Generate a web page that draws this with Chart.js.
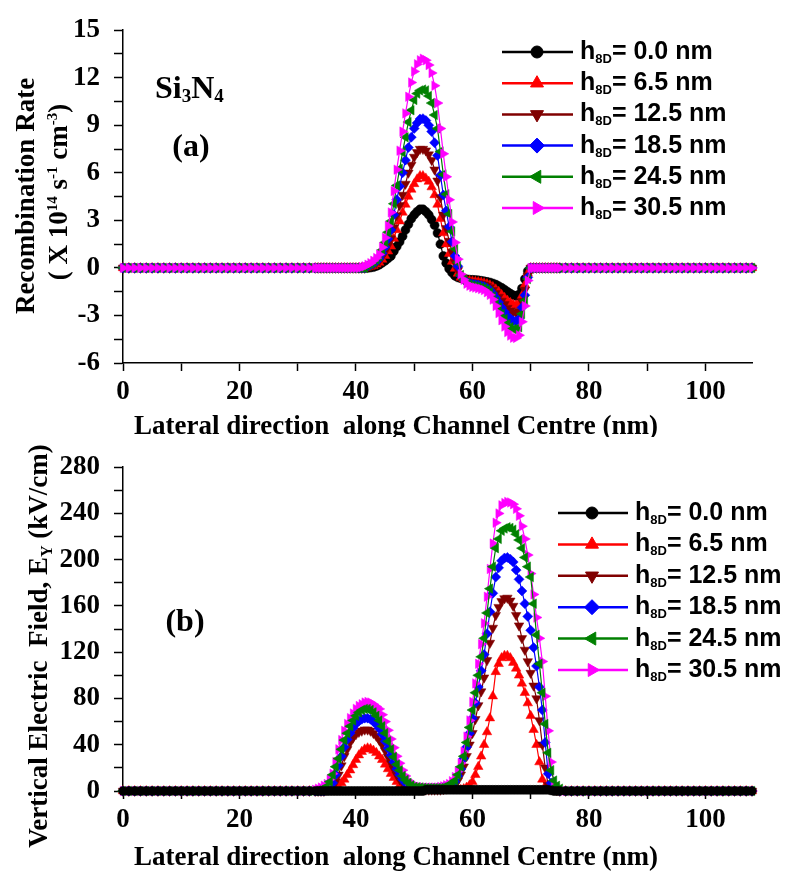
<!DOCTYPE html>
<html>
<head>
<meta charset="utf-8">
<script src="https://cdn.jsdelivr.net/npm/chart.js@4.4.1/dist/chart.umd.min.js"></script>
<style>
  html, body { margin: 0; padding: 0; background: #fff; }
  #wrap { position: relative; width: 790px; height: 875px; }
  canvas { position: absolute; left: 0; }
  #top { top: 0; }
  #bottom { top: 437px; }
</style>
</head>
<body>
<div id="wrap">
  <canvas id="top" width="790" height="437"></canvas>
  <canvas id="bottom" width="790" height="438"></canvas>
</div>
<script>
// lateral position along channel centre (nm); finer mesh 33..75
const xPos = [
  0, 1, 2, 3, 4, 5, 6, 7, 8, 9, 10, 11, 12, 13, 14, 15, 16,
  17, 18, 19, 20, 21, 22, 23, 24, 25, 26, 27, 28, 29, 30, 31, 32,
  33, 33.5, 34, 34.5, 35, 35.5, 36, 36.5, 37, 37.5,
  38, 38.5, 39, 39.5, 40, 40.5, 41, 41.5, 42, 42.5,
  43, 43.5, 44, 44.5, 45, 45.5, 46, 46.5, 47, 47.5,
  48, 48.5, 49, 49.5, 50, 50.5, 51, 51.5, 52, 52.5,
  53, 53.5, 54, 54.5, 55, 55.5, 56, 56.5, 57, 57.5,
  58, 58.5, 59, 59.5, 60, 60.5, 61, 61.5, 62, 62.5,
  63, 63.5, 64, 64.5, 65, 65.5, 66, 66.5, 67, 67.5,
  68, 68.5, 69, 69.5, 70, 70.5, 71, 71.5, 72, 72.5,
  73, 73.5, 74, 74.5, 75,
  76, 77, 78, 79, 80, 81, 82, 83, 84, 85, 86, 87, 88, 89, 90, 91, 92,
  93, 94, 95, 96, 97, 98, 99, 100, 101, 102, 103, 104, 105, 106, 107, 108
];
const hsdValues = ['0.0', '6.5', '12.5', '18.5', '24.5', '30.5'];

// (a) recombination rate (x 10^14 s^-1 cm^-3)
const recH00 = [
  0, 0, 0, 0, 0, 0, 0, 0, 0, 0, 0, 0, 0, 0, 0, 0, 0,
  0, 0, 0, 0, 0, 0, 0, 0, 0, 0, 0, 0, 0, 0, 0, 0,
  0, 0, 0, 0, 0, 0, 0, 0, 0, 0,
  0, 0, 0, 0, 0, 0, 0, 0, 0, 0.02,
  0.05, 0.12, 0.2, 0.32, 0.45, 0.6, 0.75, 1.05, 1.35, 1.65,
  2.0, 2.4, 2.75, 3.1, 3.35, 3.55, 3.7, 3.7, 3.55, 3.35,
  3.05, 2.7, 2.2, 1.5, 0.75, 0.3, -0.05, -0.3, -0.5, -0.6,
  -0.65, -0.7, -0.72, -0.74, -0.75, -0.76, -0.78, -0.81, -0.84, -0.88,
  -0.92, -0.98, -1.05, -1.15, -1.25, -1.37, -1.5, -1.62, -1.72, -1.77,
  -1.68, -1.3, -0.7, -0.2, 0, 0, 0, 0, 0, 0,
  0, 0, 0, 0, 0,
  0, 0, 0, 0, 0, 0, 0, 0, 0, 0, 0, 0, 0, 0, 0, 0, 0,
  0, 0, 0, 0, 0, 0, 0, 0, 0, 0, 0, 0, 0, 0, 0, 0
];
const recH65 = [
  0, 0, 0, 0, 0, 0, 0, 0, 0, 0, 0, 0, 0, 0, 0, 0, 0,
  0, 0, 0, 0, 0, 0, 0, 0, 0, 0, 0, 0, 0, 0, 0, 0,
  0, 0, 0, 0, 0, 0, 0, 0, 0, 0,
  0, 0, 0, 0, 0, 0, 0, 0, 0.05, 0.09,
  0.14, 0.23, 0.34, 0.53, 0.77, 1.05, 1.36, 1.85, 2.4, 2.95,
  3.5, 4.0, 4.5, 4.95, 5.3, 5.6, 5.8, 5.8, 5.65, 5.45,
  5.1, 4.6, 4.0, 3.1, 2.2, 1.5, 0.9, 0.4, -0.04, -0.35,
  -0.6, -0.7, -0.78, -0.82, -0.85, -0.87, -0.89, -0.92, -0.96, -1.02,
  -1.09, -1.2, -1.35, -1.5, -1.7, -1.88, -2.06, -2.2, -2.31, -2.35,
  -2.25, -1.75, -1.07, -0.35, 0, 0, 0, 0, 0, 0,
  0, 0, 0, 0, 0,
  0, 0, 0, 0, 0, 0, 0, 0, 0, 0, 0, 0, 0, 0, 0, 0, 0,
  0, 0, 0, 0, 0, 0, 0, 0, 0, 0, 0, 0, 0, 0, 0, 0
];
const recH125 = [
  0, 0, 0, 0, 0, 0, 0, 0, 0, 0, 0, 0, 0, 0, 0, 0, 0,
  0, 0, 0, 0, 0, 0, 0, 0, 0, 0, 0, 0, 0, 0, 0, 0,
  0, 0, 0, 0, 0, 0, 0, 0, 0, 0,
  0, 0, 0, 0, 0, 0, 0, 0, 0.08, 0.14,
  0.21, 0.32, 0.46, 0.72, 1.03, 1.42, 1.85, 2.55, 3.3, 3.95,
  4.6, 5.3, 6.0, 6.5, 7.0, 7.3, 7.5, 7.5, 7.4, 7.15,
  6.8, 6.2, 5.5, 4.45, 3.35, 2.5, 1.7, 1.0, 0.35, -0.15,
  -0.55, -0.72, -0.83, -0.89, -0.93, -0.95, -0.98, -1.02, -1.06, -1.14,
  -1.23, -1.4, -1.6, -1.83, -2.08, -2.3, -2.53, -2.7, -2.8, -2.83,
  -2.72, -2.1, -1.39, -0.5, 0, 0, 0, 0, 0, 0,
  0, 0, 0, 0, 0,
  0, 0, 0, 0, 0, 0, 0, 0, 0, 0, 0, 0, 0, 0, 0, 0, 0,
  0, 0, 0, 0, 0, 0, 0, 0, 0, 0, 0, 0, 0, 0, 0, 0
];
const recH185 = [
  0, 0, 0, 0, 0, 0, 0, 0, 0, 0, 0, 0, 0, 0, 0, 0, 0,
  0, 0, 0, 0, 0, 0, 0, 0, 0, 0, 0, 0, 0, 0, 0, 0,
  0, 0, 0, 0, 0, 0, 0, 0, 0, 0,
  0, 0, 0, 0, 0, 0, 0, 0, 0.12, 0.2,
  0.29, 0.42, 0.59, 0.92, 1.32, 1.83, 2.4, 3.35, 4.3, 5.15,
  6.0, 6.8, 7.6, 8.25, 8.8, 9.15, 9.4, 9.42, 9.3, 9.0,
  8.6, 7.9, 7.1, 5.85, 4.6, 3.6, 2.6, 1.65, 0.75, 0.1,
  -0.5, -0.72, -0.89, -0.97, -1.02, -1.05, -1.08, -1.13, -1.18, -1.28,
  -1.39, -1.6, -1.87, -2.17, -2.49, -2.77, -3.03, -3.2, -3.33, -3.36,
  -3.23, -2.5, -1.72, -0.6, 0, 0, 0, 0, 0, 0,
  0, 0, 0, 0, 0,
  0, 0, 0, 0, 0, 0, 0, 0, 0, 0, 0, 0, 0, 0, 0, 0, 0,
  0, 0, 0, 0, 0, 0, 0, 0, 0, 0, 0, 0, 0, 0, 0, 0
];
const recH245 = [
  0, 0, 0, 0, 0, 0, 0, 0, 0, 0, 0, 0, 0, 0, 0, 0, 0,
  0, 0, 0, 0, 0, 0, 0, 0, 0, 0, 0, 0, 0, 0, 0, 0,
  0, 0, 0, 0, 0, 0, 0, 0, 0, 0,
  0, 0, 0, 0, 0, 0, 0, 0, 0.16, 0.26,
  0.37, 0.53, 0.72, 1.13, 1.61, 2.25, 2.95, 4.05, 5.2, 6.25,
  7.3, 8.25, 9.2, 9.95, 10.6, 11.0, 11.2, 11.25, 11.2, 10.85,
  10.4, 9.65, 8.8, 7.35, 5.9, 4.65, 3.4, 2.3, 1.2, 0.35,
  -0.45, -0.72, -0.94, -1.04, -1.11, -1.15, -1.18, -1.23, -1.29, -1.4,
  -1.54, -1.8, -2.13, -2.5, -2.89, -3.23, -3.54, -3.74, -3.86, -3.9,
  -3.74, -2.9, -2.06, -0.7, 0, 0, 0, 0, 0, 0,
  0, 0, 0, 0, 0,
  0, 0, 0, 0, 0, 0, 0, 0, 0, 0, 0, 0, 0, 0, 0, 0, 0,
  0, 0, 0, 0, 0, 0, 0, 0, 0, 0, 0, 0, 0, 0, 0, 0
];
const recH305 = [
  0, 0, 0, 0, 0, 0, 0, 0, 0, 0, 0, 0, 0, 0, 0, 0, 0,
  0, 0, 0, 0, 0, 0, 0, 0, 0, 0, 0, 0, 0, 0, 0, 0,
  0, 0, 0, 0, 0, 0, 0, 0, 0, 0,
  0, 0, 0, 0, 0, 0, 0.05, 0.1, 0.2, 0.3,
  0.45, 0.62, 0.85, 1.3, 1.9, 2.65, 3.5, 4.85, 6.2, 7.4,
  8.6, 9.75, 10.8, 11.7, 12.4, 12.85, 13.1, 13.2, 13.1, 12.8,
  12.3, 11.5, 10.4, 8.8, 7.2, 5.75, 4.3, 2.9, 1.6, 0.55,
  -0.4, -0.75, -1.0, -1.12, -1.2, -1.24, -1.28, -1.33, -1.4, -1.53,
  -1.7, -2.0, -2.4, -2.85, -3.3, -3.7, -4.05, -4.27, -4.4, -4.42,
  -4.25, -3.4, -2.4, -0.8, 0, 0, 0, 0, 0, 0,
  0, 0, 0, 0, 0,
  0, 0, 0, 0, 0, 0, 0, 0, 0, 0, 0, 0, 0, 0, 0, 0, 0,
  0, 0, 0, 0, 0, 0, 0, 0, 0, 0, 0, 0, 0, 0, 0, 0
];

// (b) vertical electric field Ey (kV/cm)
const efH00 = [
  0, 0, 0, 0, 0, 0, 0, 0, 0, 0, 0, 0, 0, 0, 0, 0, 0,
  0, 0, 0, 0, 0, 0, 0, 0, 0, 0, 0, 0, 0, 0, 0, 0,
  0, 0, 0, 0, 0, 0, 0, 0, 0, 0,
  0, 0, 0, 0, 0, 0, 0, 0, 0, 0,
  0, 0, 0, 0, 0, 0, 0, 0, 0, 0,
  0, 0, 0, 0, 0, 0, 0, 0, 1, 1,
  1, 1, 1, 1, 1, 1, 1, 1, 1, 1,
  1, 1, 1, 1, 1, 1, 1, 1, 1, 1,
  1, 1, 1, 1, 1, 1, 1, 1, 1, 1,
  1, 1, 1, 1, 1, 1, 1, 1, 1, 1,
  1, 0.5, 0, 0, 0,
  0, 0, 0, 0, 0, 0, 0, 0, 0, 0, 0, 0, 0, 0, 0, 0, 0,
  0, 0, 0, 0, 0, 0, 0, 0, 0, 0, 0, 0, 0, 0, 0, 0
];
const efH65 = [
  0, 0, 0, 0, 0, 0, 0, 0, 0, 0, 0, 0, 0, 0, 0, 0, 0,
  0, 0, 0, 0, 0, 0, 0, 0, 0, 0, 0, 0, 0, 0, 0, 0,
  0, 0, 0, 0, 0, 0, 1, 2, 4, 7,
  10, 14, 18, 22.5, 27, 31, 34, 36, 37, 36.5,
  35, 33, 30, 27, 23, 19, 15, 11.5, 8, 5,
  3, 2, 1, 0.7, 0.5, 0.5, 0.5, 0.5, 0.5, 0.5,
  0.5, 0.5, 0.5, 0.5, 0.5, 0.5, 0.5, 0.5, 0.8, 0.9,
  1, 1.8, 3, 5, 8, 14, 21, 30, 40, 51,
  63, 82, 103, 110, 115, 117, 117, 115, 111, 106,
  100, 93, 85, 76, 65, 53, 40, 25, 10, 4,
  1, 0.5, 0, 0, 0,
  0, 0, 0, 0, 0, 0, 0, 0, 0, 0, 0, 0, 0, 0, 0, 0, 0,
  0, 0, 0, 0, 0, 0, 0, 0, 0, 0, 0, 0, 0, 0, 0, 0
];
const efH125 = [
  0, 0, 0, 0, 0, 0, 0, 0, 0, 0, 0, 0, 0, 0, 0, 0, 0,
  0, 0, 0, 0, 0, 0, 0, 0, 0, 0, 0, 0, 0, 0, 0, 0,
  0, 0, 0, 0, 1, 2, 4, 8, 14, 22,
  30, 36, 42, 46, 49, 51, 52, 53, 53, 52,
  50, 47.5, 44, 40, 35, 29.5, 24, 19, 14, 10,
  7, 4.5, 3, 2, 1.5, 1.2, 1, 1, 1, 1,
  1, 1, 1, 1, 1.5, 2, 3, 4, 5, 9,
  14, 21, 30, 40, 50, 62, 74, 86, 98, 113,
  128, 141, 152, 159, 164, 166.5, 167, 164.5, 160, 152,
  143, 132, 122, 112, 102, 91, 80, 61, 40, 20,
  5, 2.5, 1, 0.5, 0,
  0, 0, 0, 0, 0, 0, 0, 0, 0, 0, 0, 0, 0, 0, 0, 0, 0,
  0, 0, 0, 0, 0, 0, 0, 0, 0, 0, 0, 0, 0, 0, 0, 0
];
const efH185 = [
  0, 0, 0, 0, 0, 0, 0, 0, 0, 0, 0, 0, 0, 0, 0, 0, 0,
  0, 0, 0, 0, 0, 0, 0, 0, 0, 0, 0, 0, 0, 0, 0, 0,
  0, 0, 0, 0, 2, 4, 7, 14, 22, 30,
  38, 44.5, 50, 54.5, 58, 60.5, 62, 63, 63, 62,
  60, 57.5, 54, 49, 43, 37, 31, 25, 19, 14,
  10, 7, 5, 3.5, 2.5, 2.2, 2, 2, 2, 2,
  2, 2, 2, 2, 3, 3.5, 4, 5.5, 8, 13,
  19, 28, 38, 50, 63, 76, 90, 104, 118, 136,
  155, 171, 185, 193, 199, 201.5, 202, 200.5, 198, 191,
  183, 173, 162, 151, 139, 124, 108, 90, 70, 42,
  15, 7, 3, 1, 0,
  0, 0, 0, 0, 0, 0, 0, 0, 0, 0, 0, 0, 0, 0, 0, 0, 0,
  0, 0, 0, 0, 0, 0, 0, 0, 0, 0, 0, 0, 0, 0, 0, 0
];
const efH245 = [
  0, 0, 0, 0, 0, 0, 0, 0, 0, 0, 0, 0, 0, 0, 0, 0, 0,
  0, 0, 0, 0, 0, 0, 0, 0, 0, 0, 0, 0, 0, 0, 0, 0,
  0, 0.5, 1, 2, 4, 8, 14, 21, 28, 36,
  44, 50, 56, 61, 65, 68, 70, 71, 71, 70,
  68, 65, 61, 56, 50, 43, 36, 29.5, 23, 18,
  13, 9.5, 7, 5, 3.5, 3.2, 3, 2.7, 2.5, 2.5,
  2.5, 2.5, 2.5, 2.5, 3, 4, 5, 7, 9, 14,
  21, 30, 42, 55, 70, 85, 100, 116, 132, 154,
  175, 194, 210, 218, 225, 227, 228, 227.5, 226, 222,
  217, 210, 202, 194, 185, 162, 135, 110, 85, 58,
  33, 18, 9, 4.5, 2,
  0, 0, 0, 0, 0, 0, 0, 0, 0, 0, 0, 0, 0, 0, 0, 0, 0,
  0, 0, 0, 0, 0, 0, 0, 0, 0, 0, 0, 0, 0, 0, 0, 0
];
const efH305 = [
  0, 0, 0, 0, 0, 0, 0, 0, 0, 0, 0, 0, 0, 0, 0, 0, 0,
  0, 0, 0, 0, 0, 0, 0, 0, 0, 0, 0, 0, 0, 0, 0, 0,
  1, 2, 3, 4.5, 6, 10, 15, 25, 36, 44,
  52, 58, 63, 67, 71, 73.5, 75, 76.5, 77, 76.5,
  75, 73, 71, 66, 60, 52.5, 45, 37.5, 30, 24,
  18, 13, 9, 7, 5, 4, 3.5, 3.2, 3, 3,
  3, 3, 3, 3.5, 4, 5, 6, 8.5, 12, 17,
  24, 34, 47, 61, 77, 93, 110, 127, 145, 168,
  192, 214, 232, 240, 247, 249, 250, 249.5, 248, 244,
  238, 229, 218, 204, 188, 170, 150, 132, 112, 82,
  52, 25, 6, 2.5, 1,
  0, 0, 0, 0, 0, 0, 0, 0, 0, 0, 0, 0, 0, 0, 0, 0, 0,
  0, 0, 0, 0, 0, 0, 0, 0, 0, 0, 0, 0, 0, 0, 0, 0
];

const colors = ['#000000', '#ff0000', '#800000', '#0000ff', '#008000', '#ff00ff'];
const markers = ['circle', 'triangle', 'triangle', 'rectRot', 'triangle', 'triangle'];
const markerRot = [0, 0, 180, 0, -90, 90];
const markerSize = [4.5, 5.5, 5.5, 5, 5.5, 5.5];

const SERIF = "'Liberation Serif', 'Times New Roman', serif";
const SANS = "'Liberation Sans', Arial, sans-serif";

function drawRich(ctx, runs, x, y, rot, align) {
  ctx.save();
  ctx.translate(x, y);
  ctx.rotate(rot);
  ctx.fillStyle = '#000';
  ctx.textBaseline = 'alphabetic';
  ctx.textAlign = 'left';
  let total = 0;
  runs.forEach(r => { ctx.font = r.f; r.w = ctx.measureText(r.t).width; total += r.w; });
  let cx = align === 'center' ? -total / 2 : 0;
  runs.forEach(r => { ctx.font = r.f; ctx.fillText(r.t, cx, r.dy || 0); cx += r.w; });
  ctx.restore();
}

const overlay = {
  id: 'overlay',
  afterDraw(chart, args, opts) {
    const ctx = chart.ctx;
    opts.texts.forEach(t => drawRich(ctx, t.runs, t.x, t.y, t.rot || 0, t.align || 'center'));
    const lg = opts.legend;
    chart.data.datasets.forEach((ds, i) => {
      const y = lg.y + i * lg.dy;
      ctx.save();
      ctx.strokeStyle = ds.borderColor;
      ctx.fillStyle = ds.pointBackgroundColor;
      ctx.lineWidth = 2.5;
      ctx.beginPath();
      ctx.moveTo(lg.x1, y);
      ctx.lineTo(lg.x2, y);
      ctx.stroke();
      ctx.lineWidth = 1;
      const r = i === 0 ? 6 : 7.5;
      if (Chart.helpers && Chart.helpers.drawPoint) {
        Chart.helpers.drawPoint(ctx, { pointStyle: ds.pointStyle, rotation: ds.pointRotation, radius: r, borderWidth: 1 }, lg.xm, y);
      } else {
        ctx.beginPath(); ctx.arc(lg.xm, y, r, 0, Math.PI * 2); ctx.fill();
      }
      ctx.restore();
      drawRich(ctx, [
        { t: 'h', f: 'bold 25px ' + SANS },
        { t: '8D', f: 'bold 13px ' + SANS, dy: 4 },
        { t: '= ' + hsdValues[i] + ' nm', f: 'bold 25px ' + SANS }
      ], lg.xt, y + 7, 0, 'left');
    });
  }
};

function makeChart(id, series, orders, y, padTop, xHeight, texts, legend) {
  const datasets = series.map((s, i) => ({
    label: 'h8D= ' + hsdValues[i] + ' nm',
    data: xPos.map((x, k) => ({ x: x, y: s[k] })),
    borderColor: colors[i],
    backgroundColor: colors[i],
    pointBackgroundColor: colors[i],
    pointBorderColor: colors[i],
    pointStyle: markers[i],
    pointRotation: markerRot[i],
    pointRadius: markerSize[i],
    pointBorderWidth: 0.5,
    borderWidth: 1.2,
    tension: 0,
    clip: false,
    order: orders[i]
  }));
  const tickFont = { family: SERIF, size: 27, weight: 'bold' };
  return new Chart(document.getElementById(id), {
    type: 'line',
    data: { datasets },
    plugins: [overlay],
    options: {
      responsive: false,
      animation: false,
      layout: { padding: { top: padTop, right: 38, left: 0, bottom: 0 } },
      plugins: {
        legend: { display: false },
        tooltip: { enabled: false },
        overlay: { texts, legend }
      },
      scales: {
        x: {
          type: 'linear', min: 0, max: 108,
          grid: { drawOnChartArea: false, drawTicks: true, tickLength: 8, tickColor: '#000', tickWidth: 1.5 },
          border: { display: true, color: '#000', width: 1.5 },
          ticks: {
            stepSize: 10, includeBounds: false, autoSkip: false, maxRotation: 0,
            color: '#000', font: tickFont, padding: 5,
            callback: v => (Math.abs(v % 20) < 1e-6 ? v : '')
          },
          afterFit: s => { s.height = xHeight; }
        },
        y: {
          type: 'linear', min: y.min, max: y.max,
          grid: { drawOnChartArea: false, drawTicks: true, tickLength: 9, tickColor: '#000', tickWidth: 1.5 },
          border: { display: true, color: '#000', width: 1.5 },
          ticks: {
            stepSize: y.step, includeBounds: false, autoSkip: false,
            color: '#000', font: tickFont, padding: 14,
            callback: v => (Math.abs(v / y.label - Math.round(v / y.label)) < 1e-6 ? v : '')
          },
          afterFit: s => { s.width = 123; }
        }
      }
    }
  });
}

const b27 = 'bold 27px ' + SERIF;
const b15 = 'bold 15px ' + SERIF;

makeChart('top',
  [recH00, recH65, recH125, recH185, recH245, recH305],
  [5, 4, 3, 2, 1, 0],
  { min: -6, max: 15, step: 1.5, label: 3 },
  18, 74,
  [
    { runs: [{ t: 'Recombination Rate', f: b27 }], x: 34, y: 196, rot: -Math.PI / 2 },
    { runs: [
        { t: '( X 10', f: b27 }, { t: '14', f: b15, dy: -10 },
        { t: ' s', f: b27 }, { t: '-1', f: b15, dy: -10 },
        { t: ' cm', f: b27 }, { t: '-3', f: b15, dy: -10 },
        { t: ')', f: b27 }
      ], x: 67, y: 192, rot: -Math.PI / 2 },
    { runs: [{ t: 'Lateral direction  along Channel Centre (nm)', f: b27 }], x: 396, y: 434 },
    { runs: [
        { t: 'Si', f: 'bold 32px ' + SERIF }, { t: '3', f: 'bold 19px ' + SERIF, dy: 4 },
        { t: 'N', f: 'bold 32px ' + SERIF }, { t: '4', f: 'bold 19px ' + SERIF, dy: 4 }
      ], x: 155, y: 98, align: 'left' },
    { runs: [{ t: '(a)', f: 'bold 32px ' + SERIF }], x: 191, y: 156 }
  ],
  { y: 52, dy: 31.2, x1: 502, x2: 573, xm: 537, xt: 580 }
);

makeChart('bottom',
  [efH00, efH65, efH125, efH185, efH245, efH305],
  [0, 5, 4, 3, 1, 2],
  { min: 0, max: 280, step: 20, label: 40 },
  13, 84,
  [
    { runs: [
        { t: 'Vertical Electric  Field, E', f: b27 }, { t: 'Y', f: 'bold 16px ' + SERIF, dy: 5 },
        { t: ' (kV/cm)', f: b27 }
      ], x: 47, y: 209, rot: -Math.PI / 2 },
    { runs: [{ t: 'Lateral direction  along Channel Centre (nm)', f: b27 }], x: 396, y: 428 },
    { runs: [{ t: '(b)', f: 'bold 32px ' + SERIF }], x: 185, y: 194 }
  ],
  { y: 76, dy: 31.4, x1: 558, x2: 628, xm: 592, xt: 635 }
);
</script>
</body>
</html>
